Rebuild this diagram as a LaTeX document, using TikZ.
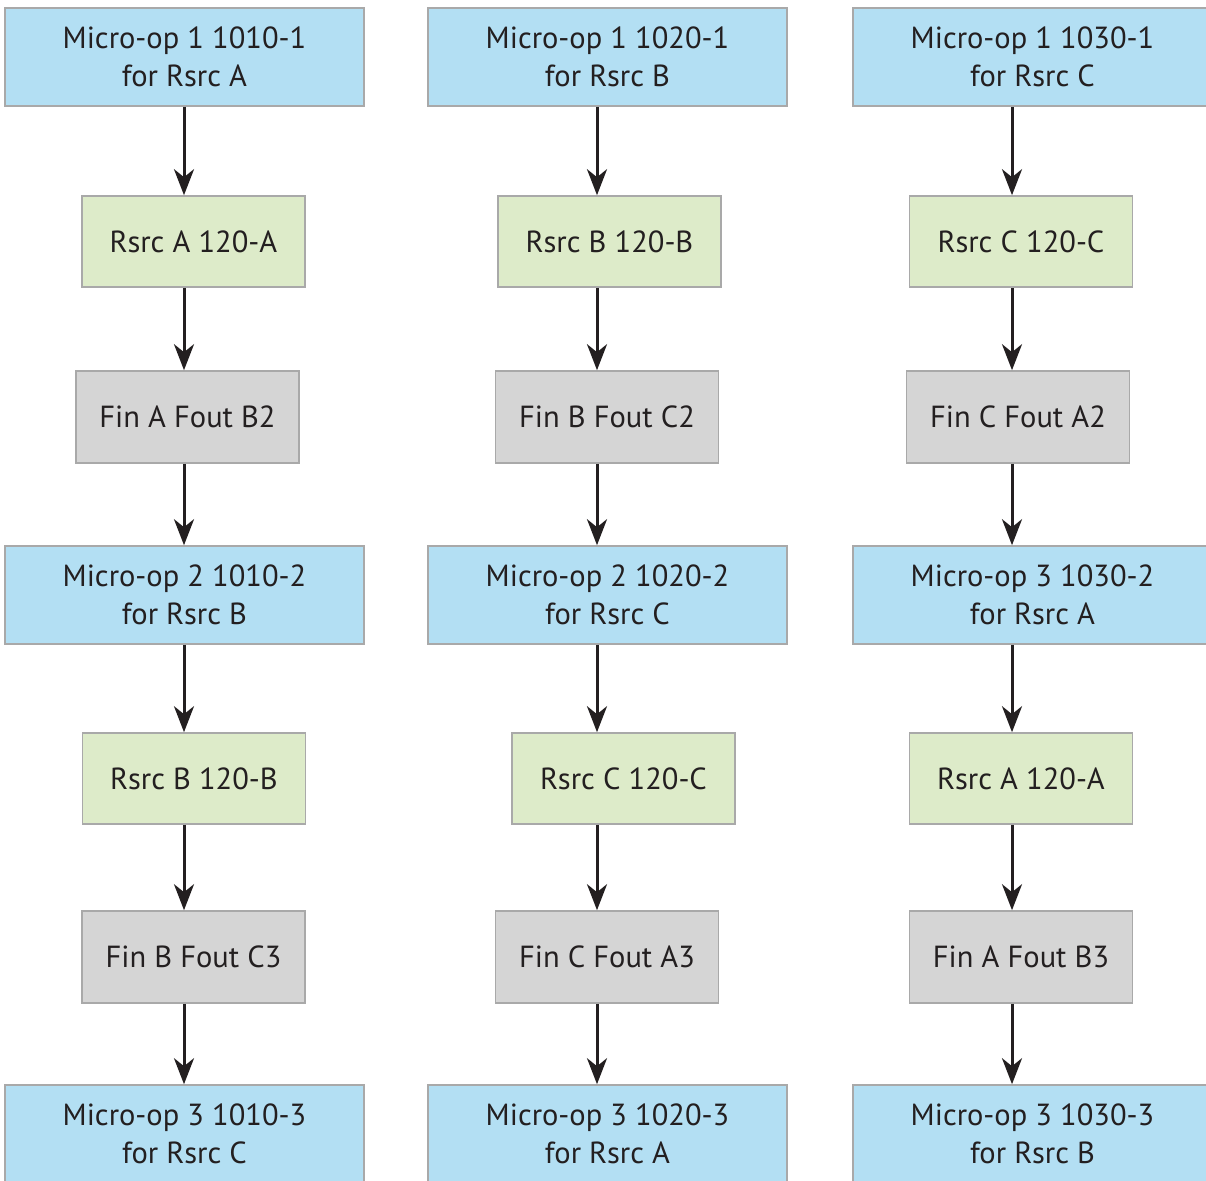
\documentclass[tikz,border=0pt]{standalone}
\usepackage{fontspec}
\setmainfont{PT Sans}
\usetikzlibrary{arrows.meta}
\definecolor{bluebox}{HTML}{B3DFF3}
\definecolor{greenbox}{HTML}{DDEBC9}
\definecolor{graybox}{HTML}{D5D5D5}
\definecolor{edgegray}{HTML}{A9A9A9}
\definecolor{txt}{HTML}{231F20}
\tikzset{
  box/.style={draw=edgegray, line width=1.6pt, text=txt, align=center, inner sep=0pt,
    font=\fontsize{30.5}{38}\selectfont},
  mop/.style={box, fill=bluebox, minimum width=359pt, minimum height=98pt},
  rsrc/.style={box, fill=greenbox, minimum width=223pt, minimum height=91pt},
  fin/.style={box, fill=graybox, minimum width=223pt, minimum height=92pt},
  arr/.style={draw=txt, line width=3pt, -{Stealth[length=26pt,width=20pt,inset=8pt]}}
}
\begin{document}
\begin{tikzpicture}[x=1pt,y=-1pt]
\useasboundingbox (0,0) rectangle (1206,1180);
\fill[white] (0,0) rectangle (1206,1180);
\coordinate (x1) at (184,0);
\coordinate (x2) at (597,0);
\coordinate (x3) at (1012,0);
% column 1
\node[mop]  (a1) at (184.5,57)   {Micro-op 1 1010-1\\for Rsrc A};
\node[rsrc] (b1) at (193.5,241.5){Rsrc A 120-A};
\node[fin]  (c1) at (187.5,417)  {Fin A Fout B2};
\node[mop]  (d1) at (184.5,595)  {Micro-op 2 1010-2\\for Rsrc B};
\node[rsrc] (e1) at (194,778.5)  {Rsrc B 120-B};
\node[fin]  (f1) at (193.5,957)  {Fin B Fout C3};
\node[mop]  (g1) at (184.5,1134) {Micro-op 3 1010-3\\for Rsrc C};
% column 2
\node[mop]  (a2) at (607.5,57)   {Micro-op 1 1020-1\\for Rsrc B};
\node[rsrc] (b2) at (609.5,241.5){Rsrc B 120-B};
\node[fin]  (c2) at (607,417)    {Fin B Fout C2};
\node[mop]  (d2) at (607.5,595)  {Micro-op 2 1020-2\\for Rsrc C};
\node[rsrc] (e2) at (623.5,778.5){Rsrc C 120-C};
\node[fin]  (f2) at (607,957)    {Fin C Fout A3};
\node[mop]  (g2) at (607.5,1134) {Micro-op 3 1020-3\\for Rsrc A};
% column 3
\node[mop]  (a3) at (1032.5,57)  {Micro-op 1 1030-1\\for Rsrc C};
\node[rsrc] (b3) at (1021,241.5) {Rsrc C 120-C};
\node[fin]  (c3) at (1018,417)   {Fin C Fout A2};
\node[mop]  (d3) at (1032.5,595) {Micro-op 3 1030-2\\for Rsrc A};
\node[rsrc] (e3) at (1021,778.5) {Rsrc A 120-A};
\node[fin]  (f3) at (1021,957)   {Fin A Fout B3};
\node[mop]  (g3) at (1032.5,1134){Micro-op 3 1030-3\\for Rsrc B};
% arrows
\foreach \c in {1,2,3}{
  \draw[arr] (a\c.south -| x\c) -- (b\c.north -| x\c);
  \draw[arr] (b\c.south -| x\c) -- (c\c.north -| x\c);
  \draw[arr] (c\c.south -| x\c) -- (d\c.north -| x\c);
  \draw[arr] (d\c.south -| x\c) -- (e\c.north -| x\c);
  \draw[arr] (e\c.south -| x\c) -- (f\c.north -| x\c);
  \draw[arr] (f\c.south -| x\c) -- (g\c.north -| x\c);
}
\end{tikzpicture}
\end{document}
